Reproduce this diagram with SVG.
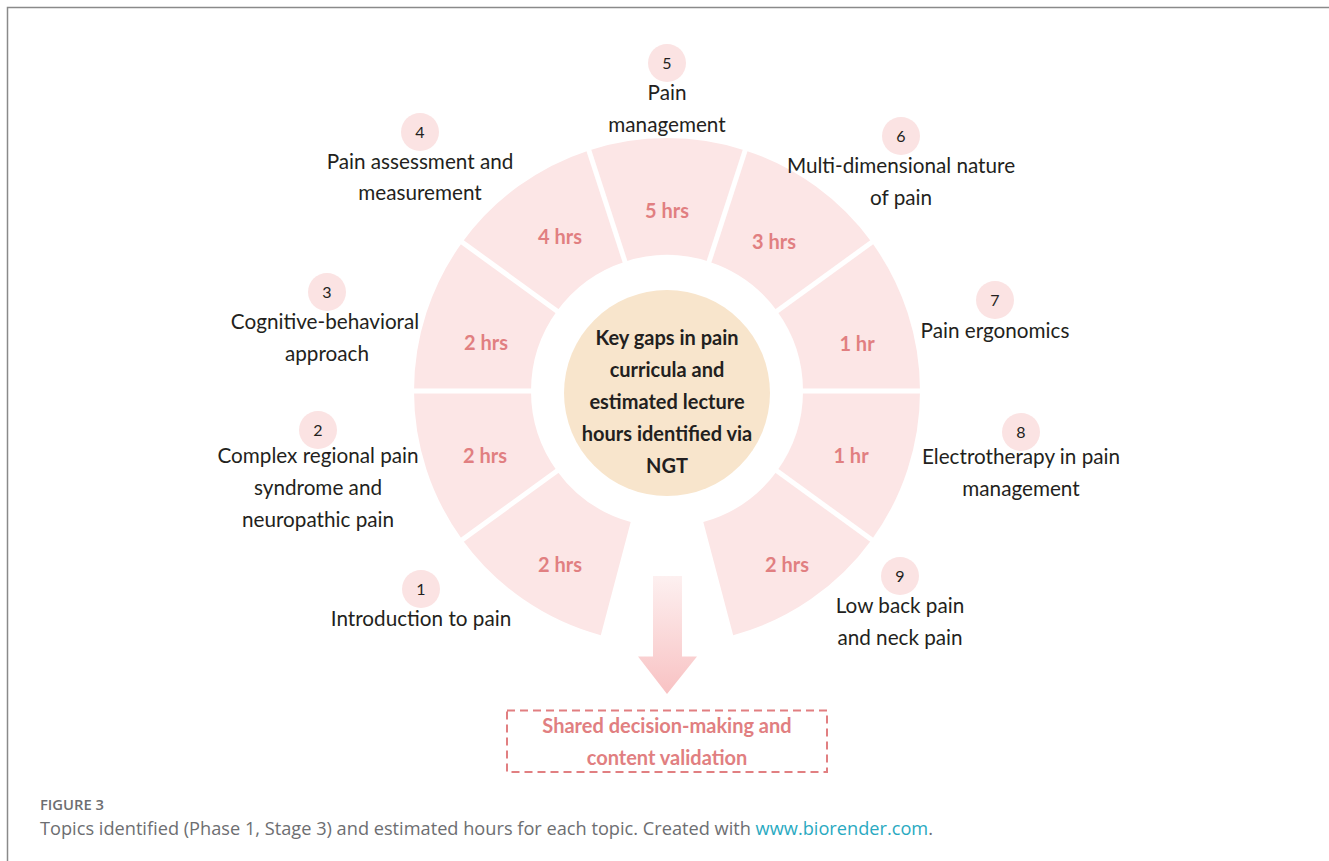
<svg xmlns="http://www.w3.org/2000/svg" width="1329" height="861" viewBox="0 0 1329 861">
  <defs>
    <linearGradient id="arrowFill" x1="0" y1="0" x2="0" y2="1">
      <stop offset="0" stop-color="#fdf0f0"/>
      <stop offset="1" stop-color="#f8c2c3"/>
    </linearGradient>
    <style>
      .seg { fill: #fce6e6; }
      .sep { stroke: #ffffff; stroke-width: 5; }
      .hrs { font-family: Lato, "Liberation Sans", sans-serif; font-size: 20px; font-weight: 700; fill: #e17f81; text-anchor: middle; }
      .lbl { font-family: Lato, "Liberation Sans", sans-serif; font-size: 20.7px; fill: #231f20; text-anchor: middle; }
      .num { font-family: Lato, "Liberation Sans", sans-serif; font-size: 16px; fill: #231f20; text-anchor: middle; }
      .badge { fill: #fbe3e3; }
      .core { font-family: Lato, "Liberation Sans", sans-serif; font-size: 20px; font-weight: 700; fill: #231f20; text-anchor: middle; }
      .out { font-family: Lato, "Liberation Sans", sans-serif; font-size: 20px; font-weight: 700; fill: #e17f81; text-anchor: middle; }
      .cap { font-family: "Open Sans", Lato, sans-serif; fill: #6d6e71; }
    </style>
  </defs>

  <rect width="1329" height="861" fill="#ffffff"/>
  <!-- page frame -->
  <path d="M7.5 861 V7.5 H1329" fill="none" stroke="#8a8a8a" stroke-width="1.5"/>

  <!-- ring of topic segments -->
  <g id="segment-5"><path class="seg" d="M588.82 150.38 A253 253 0 0 1 745.18 150.38 L709.03 261.66 A136 136 0 0 0 624.97 261.66 Z"/><text class="hrs" x="667" y="218">5 hrs</text></g>
  <g id="segment-6"><path class="seg" d="M745.18 150.38 A253 253 0 0 1 871.68 242.29 L777.03 311.06 A136 136 0 0 0 709.03 261.66 Z"/><text class="hrs" x="774" y="249">3 hrs</text></g>
  <g id="segment-7"><path class="seg" d="M871.68 242.29 A253 253 0 0 1 920 391 L803 391 A136 136 0 0 0 777.03 311.06 Z"/><text class="hrs" x="857" y="351">1 hr</text></g>
  <g id="segment-8"><path class="seg" d="M920 391 A253 253 0 0 1 871.68 539.71 L777.03 470.94 A136 136 0 0 0 803 391 Z"/><text class="hrs" x="851" y="463">1 hr</text></g>
  <g id="segment-9"><path class="seg" d="M871.68 539.71 A253 253 0 0 1 733.2 635.2 L703.3 522.1 A136 136 0 0 0 777.03 470.94 Z"/><text class="hrs" x="787" y="572">2 hrs</text></g>
  <g id="segment-1"><path class="seg" d="M600.8 635.2 A253 253 0 0 1 462.32 539.71 L556.97 470.94 A136 136 0 0 0 630.7 522.1 Z"/><text class="hrs" x="560" y="572">2 hrs</text></g>
  <g id="segment-2"><path class="seg" d="M462.32 539.71 A253 253 0 0 1 414 391 L531 391 A136 136 0 0 0 556.97 470.94 Z"/><text class="hrs" x="485" y="463">2 hrs</text></g>
  <g id="segment-3"><path class="seg" d="M414 391 A253 253 0 0 1 462.32 242.29 L556.97 311.06 A136 136 0 0 0 531 391 Z"/><text class="hrs" x="486" y="350">2 hrs</text></g>
  <g id="segment-4"><path class="seg" d="M462.32 242.29 A253 253 0 0 1 588.82 150.38 L624.97 261.66 A136 136 0 0 0 556.97 311.06 Z"/><text class="hrs" x="560" y="244">4 hrs</text></g>

  <!-- white gaps between segments -->
  <g id="separators">
    <line class="sep" x1="706.55" y1="269.26" x2="747.96" y2="141.82"/>
    <line class="sep" x1="770.55" y1="315.76" x2="878.96" y2="237"/>
    <line class="sep" x1="795" y1="391" x2="929" y2="391"/>
    <line class="sep" x1="770.55" y1="466.24" x2="878.96" y2="545"/>
    <line class="sep" x1="563.45" y1="466.24" x2="455.04" y2="545"/>
    <line class="sep" x1="539" y1="391" x2="405" y2="391"/>
    <line class="sep" x1="563.45" y1="315.76" x2="455.04" y2="237"/>
    <line class="sep" x1="627.45" y1="269.26" x2="586.04" y2="141.82"/>
  </g>

  <!-- central topic -->
  <g id="core">
    <circle cx="667" cy="393" r="103" fill="#f8e5cc"/>
    <text class="core" x="667" y="345">Key gaps in pain</text>
    <text class="core" x="667" y="377">curricula and</text>
    <text class="core" x="667" y="409">estimated lecture</text>
    <text class="core" x="667" y="441">hours identified via</text>
    <text class="core" x="667" y="473">NGT</text>
  </g>

  <!-- numbered topic labels -->
  <g id="label-1"><circle class="badge" cx="421" cy="589" r="19"/><text class="num" x="421" y="595">1</text><text class="lbl" x="421" y="626">Introduction to pain</text></g>
  <g id="label-2"><circle class="badge" cx="318" cy="430" r="19"/><text class="num" x="318" y="436">2</text><text class="lbl" x="318" y="463">Complex regional pain</text><text class="lbl" x="318" y="495">syndrome and</text><text class="lbl" x="318" y="527">neuropathic pain</text></g>
  <g id="label-3"><circle class="badge" cx="327" cy="292" r="19"/><text class="num" x="327" y="298">3</text><text class="lbl" x="325" y="329">Cognitive-behavioral</text><text class="lbl" x="327" y="361">approach</text></g>
  <g id="label-4"><circle class="badge" cx="420" cy="132" r="19"/><text class="num" x="420" y="138">4</text><text class="lbl" x="420" y="169">Pain assessment and</text><text class="lbl" x="420" y="200">measurement</text></g>
  <g id="label-5"><circle class="badge" cx="667" cy="63" r="19"/><text class="num" x="667" y="69">5</text><text class="lbl" x="667" y="100">Pain</text><text class="lbl" x="667" y="132">management</text></g>
  <g id="label-6"><circle class="badge" cx="901" cy="136" r="19"/><text class="num" x="901" y="142">6</text><text class="lbl" x="901" y="173">Multi-dimensional nature</text><text class="lbl" x="901" y="205">of pain</text></g>
  <g id="label-7"><circle class="badge" cx="995" cy="300" r="19"/><text class="num" x="995" y="306">7</text><text class="lbl" x="995" y="338">Pain ergonomics</text></g>
  <g id="label-8"><circle class="badge" cx="1021" cy="432" r="19"/><text class="num" x="1021" y="438">8</text><text class="lbl" x="1021" y="464">Electrotherapy in pain</text><text class="lbl" x="1021" y="496">management</text></g>
  <g id="label-9"><circle class="badge" cx="900" cy="576" r="19"/><text class="num" x="900" y="582">9</text><text class="lbl" x="900" y="613">Low back pain</text><text class="lbl" x="900" y="645">and neck pain</text></g>

  <!-- downward flow to validation step -->
  <g id="connectors">
    <path d="M653 576 H682 V656.5 H697 L667 694 L638 656.5 H653 Z" fill="url(#arrowFill)"/>
  </g>

  <g id="validation">
    <rect x="507" y="710.5" width="320" height="61.5" fill="none" stroke="#e17f81" stroke-width="2" stroke-dasharray="8 5"/>
    <text class="out" x="667" y="733">Shared decision-making and</text>
    <text class="out" x="667" y="765">content validation</text>
  </g>

  <!-- caption -->
  <g id="caption">
    <text class="cap" x="40" y="810" font-size="14.5" font-weight="600" fill="#7d7d7d" textLength="64" lengthAdjust="spacingAndGlyphs">FIGURE 3</text>
    <text class="cap" x="40" y="835" font-size="17.5" textLength="893" lengthAdjust="spacingAndGlyphs">Topics identified (Phase 1, Stage 3) and estimated hours for each topic. Created with <tspan fill="#29a9c1">www.biorender.com</tspan>.</text>
  </g>
</svg>
